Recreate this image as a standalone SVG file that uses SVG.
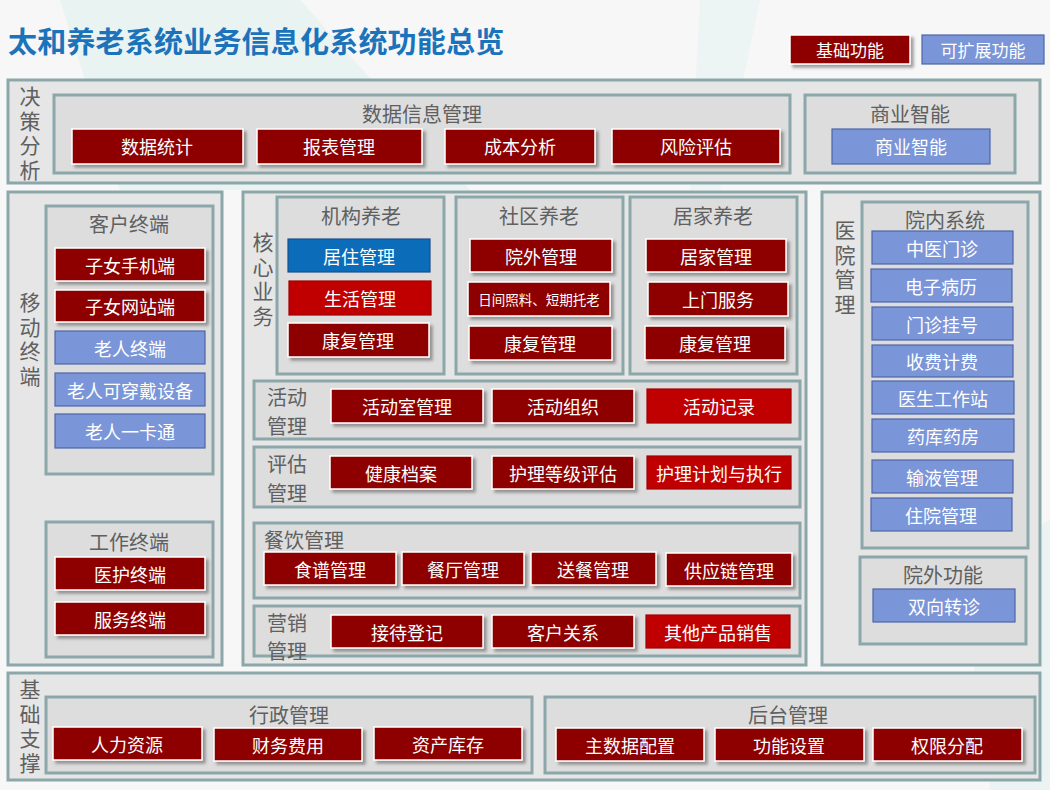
<svg xmlns="http://www.w3.org/2000/svg" width="1050" height="790" viewBox="0 0 1050 790">
<defs>
<filter id="sh" x="-10%" y="-20%" width="125%" height="150%">
<feDropShadow dx="3" dy="3" stdDeviation="1.8" flood-color="#555" flood-opacity="0.55"/>
</filter>
<style>
text{font-family:"Noto Sans CJK SC","Liberation Sans",sans-serif;}
.outer{fill:#E6E6E6;stroke:#8CA7A9;stroke-width:3;}
.inner{fill:#DDDDDD;stroke:#8CA7A9;stroke-width:3;}
.dr{fill:#8E0000;stroke:#FFFFFF;stroke-width:1.5;filter:url(#sh);}
.br{fill:#C00000;stroke:#A00000;stroke-width:1.2;}
.lb{fill:#7A95D8;stroke:#4E66A6;stroke-width:1.2;}
.db{fill:#0B6DB9;stroke:#1D4F8A;stroke-width:1.2;}
.bt{fill:#FFFFFF;font-size:18px;text-anchor:middle;dominant-baseline:central;}
.gt{fill:#606060;font-size:20px;text-anchor:middle;dominant-baseline:central;}
.vl{fill:#606060;font-size:20px;text-anchor:middle;dominant-baseline:central;}
.vv{fill:#606060;font-size:21px;writing-mode:vertical-rl;letter-spacing:3.5px;}
.title{fill:#1B73BB;font-size:29px;font-weight:bold;letter-spacing:0.2px;}
</style>
</defs>
<rect x="0" y="0" width="1050" height="790" fill="#F6F7F6"/>
<polygon points="60,0 300,0 470,190 120,190" fill="#E3F1F1" opacity="0.7"/>
<polygon points="700,0 760,0 720,190 690,190" fill="#E8F3F3" opacity="0.6"/>
<polygon points="960,560 1050,520 1050,790 990,790" fill="#E6F2F2" opacity="0.6"/>

<g id="title"><text class="title" x="8" y="53">太和养老系统业务信息化系统功能总览</text></g>

<g id="legend">
<rect class="dr" x="790" y="35" width="120" height="29"/><text class="bt" x="850" y="49.5" style="font-size:17px">基础功能</text>
<rect class="lb" x="922" y="35" width="122" height="29"/><text class="bt" x="983" y="49.5" style="font-size:17px">可扩展功能</text>
</g>

<!-- 决策分析 -->
<g id="sec-decision">
<rect class="outer" x="8" y="80" width="1032" height="103"/>
<text class="vv" x="30" y="86">决策分析</text>
</g>
<g id="data-info">
<rect class="inner" x="54" y="95" width="736" height="78"/>
<text class="gt" x="422" y="113">数据信息管理</text>
<rect class="dr" x="72" y="129" width="171" height="35"/><text class="bt" x="157" y="146">数据统计</text>
<rect class="dr" x="257" y="129" width="165" height="35"/><text class="bt" x="339" y="146">报表管理</text>
<rect class="dr" x="445" y="129" width="150" height="35"/><text class="bt" x="520" y="146">成本分析</text>
<rect class="dr" x="612" y="129" width="168" height="35"/><text class="bt" x="696" y="146">风险评估</text>
</g>
<g id="bi">
<rect class="inner" x="805" y="95" width="210" height="78"/>
<text class="gt" x="910" y="113">商业智能</text>
<rect class="lb" x="832" y="129" width="158" height="35"/><text class="bt" x="911" y="146">商业智能</text>
</g>

<!-- 移动终端 -->
<g id="sec-mobile">
<rect class="outer" x="8" y="192" width="214" height="473"/>
<text class="vv" x="30" y="292">移动终端</text>
</g>
<g id="customer-terminal">
<rect class="inner" x="46" y="206" width="167" height="268"/>
<text class="gt" x="129" y="223">客户终端</text>
<rect class="dr" x="55" y="248" width="150" height="33"/><text class="bt" x="130" y="264.5">子女手机端</text>
<rect class="dr" x="55" y="290" width="150" height="32"/><text class="bt" x="130" y="306">子女网站端</text>
<rect class="lb" x="55" y="331" width="150" height="33"/><text class="bt" x="130" y="347.5">老人终端</text>
<rect class="lb" x="55" y="373" width="150" height="33"/><text class="bt" x="130" y="389.5">老人可穿戴设备</text>
<rect class="lb" x="55" y="414" width="150" height="34"/><text class="bt" x="130" y="431">老人一卡通</text>
</g>
<g id="work-terminal">
<rect class="inner" x="46" y="522" width="167" height="135"/>
<text class="gt" x="129" y="541">工作终端</text>
<rect class="dr" x="55" y="557" width="150" height="33"/><text class="bt" x="130" y="573.5">医护终端</text>
<rect class="dr" x="55" y="602" width="150" height="33"/><text class="bt" x="130" y="618.5">服务终端</text>
</g>

<!-- 核心业务 -->
<g id="sec-core">
<rect class="outer" x="243" y="192" width="563" height="473"/>
<text class="vv" x="263" y="232">核心业务</text>
</g>
<g id="institution">
<rect class="inner" x="277" y="197" width="167" height="177"/>
<text class="gt" x="361" y="215">机构养老</text>
<rect class="db" x="288" y="239" width="142" height="33"/><text class="bt" x="359" y="255.5">居住管理</text>
<rect class="br" x="289" y="281" width="142" height="34"/><text class="bt" x="360" y="298">生活管理</text>
<rect class="dr" x="288" y="323" width="141" height="34"/><text class="bt" x="358" y="340">康复管理</text>
</g>
<g id="community">
<rect class="inner" x="456" y="197" width="167" height="177"/>
<text class="gt" x="539" y="215">社区养老</text>
<rect class="dr" x="470" y="239" width="142" height="33"/><text class="bt" x="541" y="255.5">院外管理</text>
<rect class="dr" x="468" y="282" width="142" height="34"/><text class="bt" x="539" y="299" style="font-size:13.5px">日间照料、短期托老</text>
<rect class="dr" x="469" y="326" width="143" height="34"/><text class="bt" x="540" y="343">康复管理</text>
</g>
<g id="home">
<rect class="inner" x="630" y="197" width="167" height="177"/>
<text class="gt" x="713" y="215">居家养老</text>
<rect class="dr" x="646" y="239" width="140" height="33"/><text class="bt" x="716" y="255.5">居家管理</text>
<rect class="dr" x="648" y="282" width="140" height="34"/><text class="bt" x="718" y="299">上门服务</text>
<rect class="dr" x="645" y="326" width="140" height="34"/><text class="bt" x="715" y="343">康复管理</text>
</g>
<g id="activity">
<rect class="inner" x="254" y="381" width="546" height="58"/>
<text class="vl" x="287" y="396">活动</text><text class="vl" x="287" y="425">管理</text>
<rect class="dr" x="331" y="389" width="152" height="34"/><text class="bt" x="407" y="406">活动室管理</text>
<rect class="dr" x="492" y="389" width="142" height="34"/><text class="bt" x="563" y="406">活动组织</text>
<rect class="br" x="647" y="389" width="144" height="34"/><text class="bt" x="719" y="406">活动记录</text>
</g>
<g id="assessment">
<rect class="inner" x="254" y="447" width="546" height="60"/>
<text class="vl" x="287" y="463">评估</text><text class="vl" x="287" y="492">管理</text>
<rect class="dr" x="330" y="456" width="142" height="33"/><text class="bt" x="401" y="472.5">健康档案</text>
<rect class="dr" x="492" y="456" width="142" height="33"/><text class="bt" x="563" y="472.5">护理等级评估</text>
<rect class="br" x="647" y="456" width="144" height="33"/><text class="bt" x="719" y="472.5">护理计划与执行</text>
</g>
<g id="catering">
<rect class="inner" x="254" y="523" width="546" height="75"/>
<text class="gt" x="264" y="539" style="text-anchor:start">餐饮管理</text>
<rect class="dr" x="264" y="552" width="132" height="33"/><text class="bt" x="330" y="568.5">食谱管理</text>
<rect class="dr" x="402" y="552" width="122" height="33"/><text class="bt" x="463" y="568.5">餐厅管理</text>
<rect class="dr" x="531" y="552" width="125" height="33"/><text class="bt" x="593" y="568.5">送餐管理</text>
<rect class="dr" x="666" y="553" width="126" height="33"/><text class="bt" x="729" y="569.5">供应链管理</text>
</g>
<g id="marketing">
<rect class="inner" x="254" y="606" width="546" height="50"/>
<text class="vl" x="287" y="622">营销</text><text class="vl" x="287" y="650">管理</text>
<rect class="dr" x="331" y="615" width="152" height="33"/><text class="bt" x="407" y="631.5">接待登记</text>
<rect class="dr" x="492" y="615" width="142" height="33"/><text class="bt" x="563" y="631.5">客户关系</text>
<rect class="br" x="646" y="615" width="144" height="33"/><text class="bt" x="718" y="631.5">其他产品销售</text>
</g>

<!-- 医院管理 -->
<g id="sec-hospital">
<rect class="outer" x="822" y="192" width="218" height="473"/>
<text class="vv" x="845" y="220">医院管理</text>
</g>
<g id="in-hospital">
<rect class="inner" x="862" y="202" width="166" height="346"/>
<text class="gt" x="945" y="219">院内系统</text>
<rect class="lb" x="872" y="231" width="141" height="33"/><text class="bt" x="942" y="247.5">中医门诊</text>
<rect class="lb" x="871" y="269" width="141" height="33"/><text class="bt" x="941" y="285.5">电子病历</text>
<rect class="lb" x="872" y="307" width="141" height="33"/><text class="bt" x="942" y="323.5">门诊挂号</text>
<rect class="lb" x="872" y="345" width="141" height="32"/><text class="bt" x="942" y="361">收费计费</text>
<rect class="lb" x="872" y="381" width="142" height="33"/><text class="bt" x="943" y="397.5">医生工作站</text>
<rect class="lb" x="872" y="419" width="142" height="33"/><text class="bt" x="943" y="435.5">药库药房</text>
<rect class="lb" x="872" y="460" width="141" height="33"/><text class="bt" x="942" y="476.5">输液管理</text>
<rect class="lb" x="871" y="498" width="141" height="33"/><text class="bt" x="941" y="514.5">住院管理</text>
</g>
<g id="out-hospital">
<rect class="inner" x="860" y="557" width="166" height="87"/>
<text class="gt" x="943" y="574">院外功能</text>
<rect class="lb" x="873" y="589" width="142" height="33"/><text class="bt" x="944" y="605.5">双向转诊</text>
</g>

<!-- 基础支撑 -->
<g id="sec-base">
<rect class="outer" x="8" y="673" width="1032" height="107"/>
<text class="vv" x="30" y="679">基础支撑</text>
</g>
<g id="admin">
<rect class="inner" x="46" y="697" width="486" height="76"/>
<text class="gt" x="289" y="714">行政管理</text>
<rect class="dr" x="53" y="727" width="149" height="33"/><text class="bt" x="127" y="743.5">人力资源</text>
<rect class="dr" x="214" y="728" width="148" height="33"/><text class="bt" x="288" y="744.5">财务费用</text>
<rect class="dr" x="374" y="727" width="148" height="33"/><text class="bt" x="448" y="743.5">资产库存</text>
</g>
<g id="backend">
<rect class="inner" x="545" y="697" width="490" height="76"/>
<text class="gt" x="788" y="714">后台管理</text>
<rect class="dr" x="556" y="728" width="148" height="33"/><text class="bt" x="630" y="744.5">主数据配置</text>
<rect class="dr" x="715" y="728" width="149" height="33"/><text class="bt" x="789" y="744.5">功能设置</text>
<rect class="dr" x="873" y="728" width="149" height="33"/><text class="bt" x="947" y="744.5">权限分配</text>
</g>
</svg>
